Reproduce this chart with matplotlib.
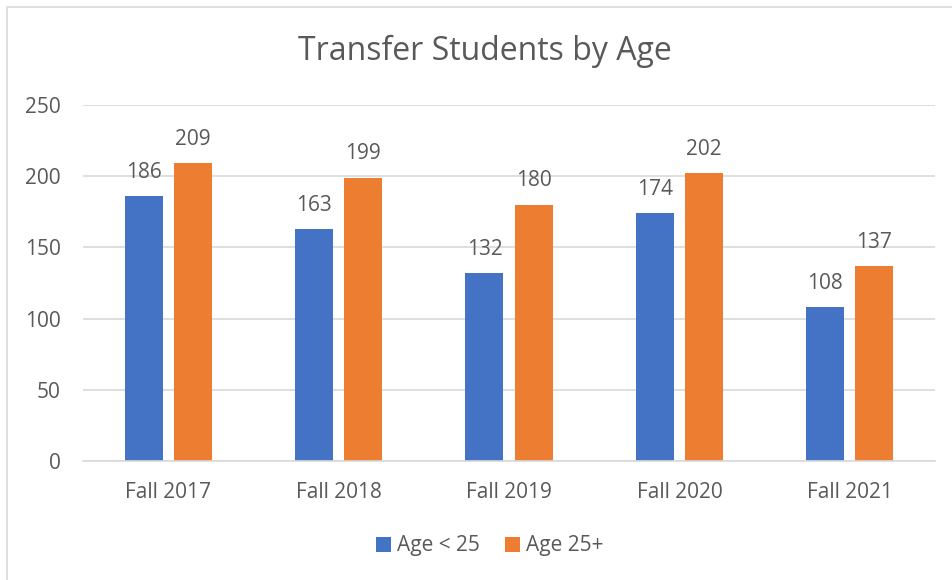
import matplotlib.pyplot as plt
import numpy as np
from matplotlib.patches import Rectangle

categories = ['Fall 2017', 'Fall 2018', 'Fall 2019', 'Fall 2020', 'Fall 2021']
under_25 = [186, 163, 132, 174, 108]
over_25 = [209, 199, 180, 202, 137]
series_names = ['Age < 25', 'Age 25+']

plt.rcParams['font.family'] = ['Open Sans', 'DejaVu Sans']
text_color = '#595959'

fig = plt.figure(figsize=(9.52, 5.8), dpi=100)
ax = fig.add_axes([83 / 952, 1 - 461 / 580, (935 - 83) / 952, (461 - 105) / 580])

# light chart border (top and left edges visible)
fig.patches.append(Rectangle((7 / 952, -0.1), 1.2, 1 - 7 / 580 + 0.1, transform=fig.transFigure,
                             fill=False, edgecolor='#D9D9D9', linewidth=1.2))

x = np.arange(len(categories))
w = 0.223
off = 0.144
b1 = ax.bar(x - off, under_25, w, color='#4472C4', label=series_names[0], zorder=3)
b2 = ax.bar(x + off, over_25, w, color='#ED7D31', label=series_names[1], zorder=3)

for bars in (b1, b2):
    for rect in bars:
        h = rect.get_height()
        ax.annotate(f'{h:.0f}', (rect.get_x() + rect.get_width() / 2, h),
                    xytext=(0, 9.5), textcoords='offset points',
                    ha='center', va='bottom', fontsize=15, color=text_color)

ax.set_xlim(-0.5, len(categories) - 0.5)
ax.set_ylim(0, 250)
ax.set_yticks(np.arange(0, 251, 50))
ax.set_xticks(x)
ax.set_xticklabels(categories)
ax.tick_params(axis='both', length=0, labelsize=15, labelcolor=text_color)
ax.tick_params(axis='y', pad=16)
ax.tick_params(axis='x', pad=15)
ax.yaxis.grid(True, color='#D9D9D9', linewidth=1.2, zorder=0)
for s in ['top', 'right', 'left']:
    ax.spines[s].set_visible(False)
ax.spines['bottom'].set_color('#D9D9D9')
ax.spines['bottom'].set_linewidth(1.2)
ax.spines['bottom'].set_zorder(4)

fig.text(485 / 952, 1 - 51 / 580, 'Transfer Students by Age', ha='center', va='center',
         fontsize=23, color=text_color)

fig.legend(loc='center', bbox_to_anchor=(490 / 952, 1 - 546 / 580), ncol=2, frameon=False,
           fontsize=15, labelcolor=text_color, handlelength=0.7, handleheight=0.7,
           handletextpad=0.3, columnspacing=1.2)

fig.savefig('out.png', dpi=100)
